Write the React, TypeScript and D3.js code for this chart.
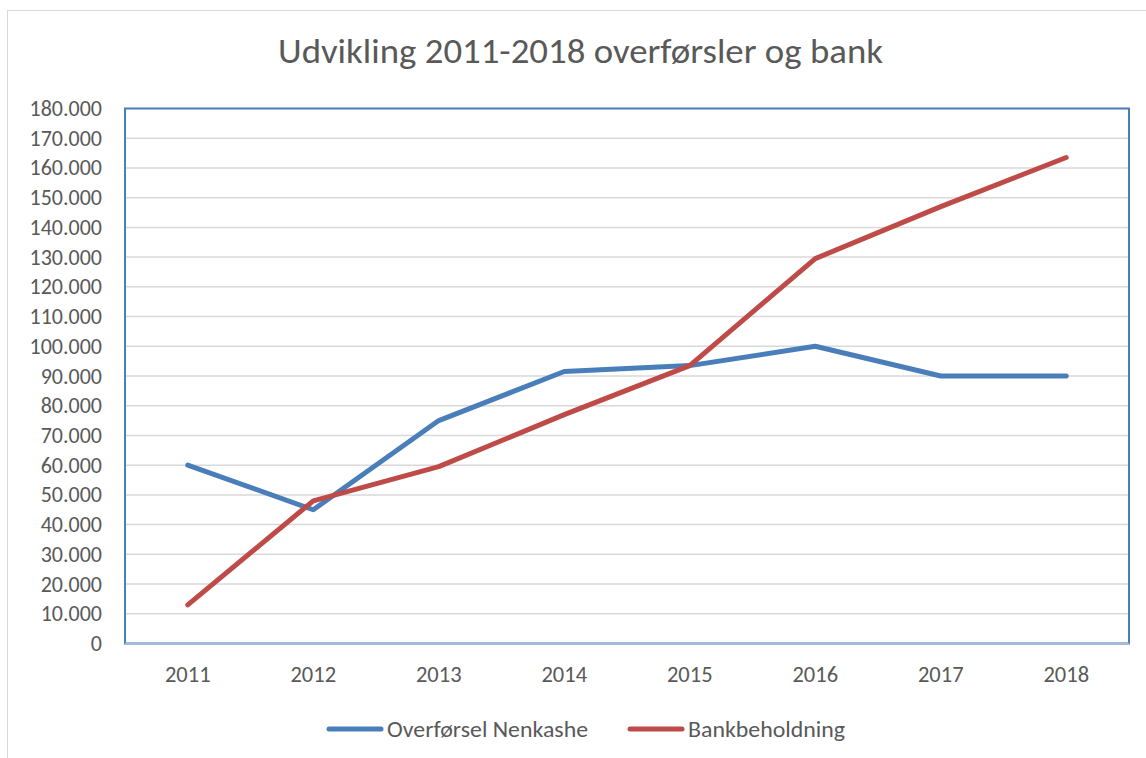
import React from "react";
import * as d3 from "d3";

const years = ["2011", "2012", "2013", "2014", "2015", "2016", "2017", "2018"];
const overforsel = [60000, 45000, 75000, 91500, 93500, 100000, 90000, 90000];
const bank = [13000, 48000, 59500, 77000, 93500, 129500, 147000, 163500];
const yTicks = d3.range(0, 180001, 10000);
const seriesNames = ["Overførsel Nenkashe", "Bankbeholdning"];
const colors = ["#4a7ebb", "#be4b48"];

const W = 1146, H = 758;
const plot = { left: 125, top: 108.5, right: 1129, bottom: 643.5 };
const font = "Carlito, Calibri, 'Open Sans', sans-serif";

const fmt = (v: number) => (v === 0 ? "0" : d3.format(",")(v).replace(/,/g, "."));

export default function App() {
  const x = d3.scaleBand().domain(years).range([plot.left, plot.right]);
  const y = d3.scaleLinear().domain([0, 180000]).range([plot.bottom, plot.top]);
  const line = d3
    .line<number>()
    .x((_, i) => (x(years[i]) as number) + x.bandwidth() / 2)
    .y((d) => y(d));
  const series = [overforsel, bank];
  const legendItems = [
    { x0: 329, x1: 381, tx: 387, tl: 201 },
    { x0: 630, x1: 682, tx: 688, tl: 157 },
  ];
  return (
    <svg
      width={W}
      height={H}
      style={{ position: "absolute", left: 0, top: 0, background: "#fff" }}
      fontFamily={font}
    >
      <rect x={7.5} y={10.5} width={1150} height={760} fill="#fff" stroke="#d9d9d9" />
      <text x={278} y={63} fontSize={34} fill="#595959" textLength={605} lengthAdjust="spacingAndGlyphs">
        Udvikling 2011-2018 overførsler og bank
      </text>
      {yTicks.map((t) => (
        <line key={t} x1={plot.left} x2={plot.right} y1={y(t)} y2={y(t)} stroke="#d9d9d9" strokeWidth={1.5} />
      ))}
      <rect
        x={plot.left}
        y={plot.top}
        width={plot.right - plot.left}
        height={plot.bottom - plot.top}
        fill="none"
        stroke="#4a7ebb"
        strokeWidth={2}
      />
      <line x1={plot.left} x2={plot.right} y1={plot.bottom} y2={plot.bottom} stroke="#a6b8d4" strokeWidth={1.5} />
      {yTicks.map((t) => (
        <text key={t} x={102} y={y(t) + 7.5} textAnchor="end" fontSize={22} fill="#595959">
          {fmt(t)}
        </text>
      ))}
      {years.map((yr) => (
        <text
          key={yr}
          x={(x(yr) as number) + x.bandwidth() / 2}
          y={682}
          textAnchor="middle"
          fontSize={22.5}
          fill="#595959"
        >
          {yr}
        </text>
      ))}
      {series.map((s, i) => (
        <path
          key={i}
          d={line(s) || ""}
          fill="none"
          stroke={colors[i]}
          strokeWidth={5}
          strokeLinecap="round"
          strokeLinejoin="round"
        />
      ))}
      {seriesNames.map((n, i) => (
        <g key={n}>
          <line
            x1={legendItems[i].x0}
            x2={legendItems[i].x1}
            y1={729}
            y2={729}
            stroke={colors[i]}
            strokeWidth={5}
            strokeLinecap="round"
          />
          <text
            x={legendItems[i].tx}
            y={737}
            fontSize={23}
            fill="#595959"
            textLength={legendItems[i].tl}
            lengthAdjust="spacingAndGlyphs"
          >
            {n}
          </text>
        </g>
      ))}
    </svg>
  );
}
